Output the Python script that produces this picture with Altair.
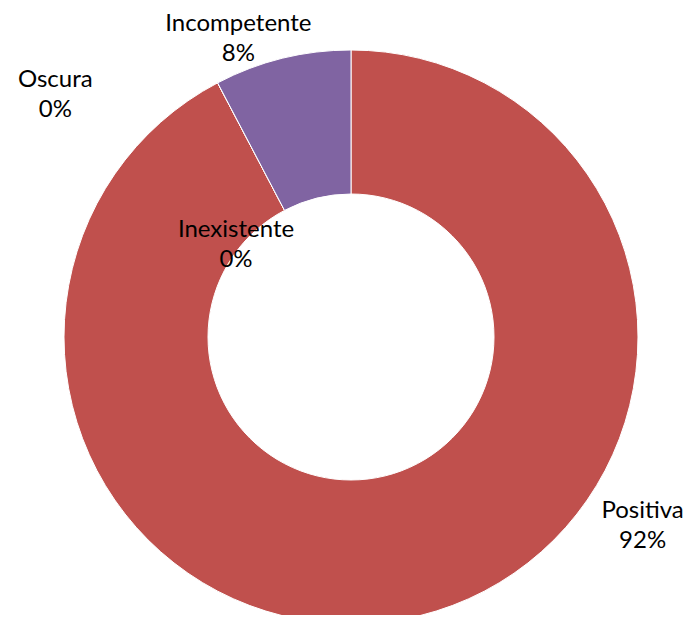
import altair as alt
import pandas as pd

# ---- data ----
categories = ["Inexistente", "Positiva", "Oscura", "Incompetente"]
values = [0, 12, 0, 1]

# ---- style / layout ----
colors = ["#4F81BD", "#C0504D", "#9BBB59", "#8064A2"]
CX, CY = 343, 329          # donut centre inside the view
R_OUT, R_IN = 287, 143
LABEL_R = 320
FONT = "Lato"
label_offsets = {
    "Inexistente": (-115, 220),
    "Positiva": (215, -130),
    "Oscura": (-147, 33),
    "Incompetente": (-36, 5),
}

df = pd.DataFrame({"cat": categories, "value": values, "idx": list(range(len(categories)))})
base = alt.Chart(df)

arcs = base.mark_arc(outerRadius=R_OUT, innerRadius=R_IN, stroke="white", strokeWidth=1).encode(
    theta=alt.Theta("value:Q", stack=True),
    order=alt.Order("idx:Q"),
    color=alt.Color("cat:N", scale=alt.Scale(domain=categories, range=colors), legend=None),
    x=alt.value(CX),
    y=alt.value(CY),
)


def label(cat):
    dx, dy = label_offsets[cat]
    return (
        base.transform_stack(stack="value", groupby=[], as_=["v0", "v1"], sort=[alt.SortField("idx")])
        .transform_joinaggregate(total="sum(value)")
        .transform_calculate(
            frac="(datum.v0 + datum.v1) / 2 / datum.total",
            label="datum.cat + '\\n' + format(datum.value / datum.total, '.0%')",
        )
        .transform_filter(alt.datum.cat == cat)
        .mark_text(
            radius=LABEL_R, dx=dx, dy=dy, font=FONT, fontSize=24, color="black",
            align="center", baseline="alphabetic", lineBreak="\n", lineHeight=30,
        )
        .encode(
            theta=alt.Theta("frac:Q", stack=False, scale=alt.Scale(domain=[0, 1])),
            text=alt.Text("label:N"),
            x=alt.value(CX),
            y=alt.value(CY),
        )
    )


labels = [label(c) for c in categories]

chart = (
    alt.layer(arcs, *labels)
    .resolve_scale(theta="independent")
    .properties(width=677, height=607, autosize=alt.AutoSizeParams(type="none"), padding=0,
                background="white")
    .configure_view(stroke=None)
)

chart.save("out.html", embed_options={"renderer": "svg", "actions": False})
